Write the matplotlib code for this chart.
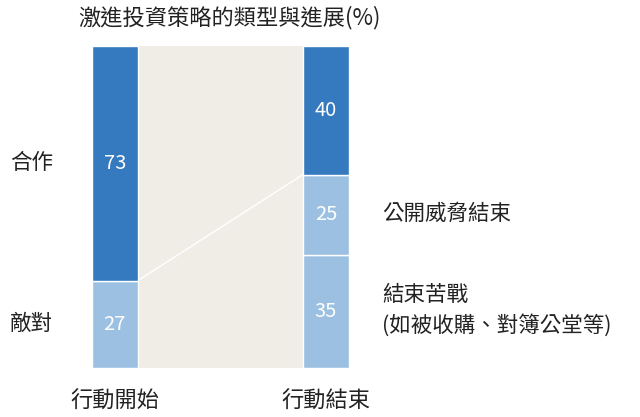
import numpy as np
import matplotlib
matplotlib.use("Agg")
import matplotlib.pyplot as plt

plt.rcParams["font.family"] = ["Noto Sans CJK TC", "DejaVu Sans"]

# data (percent)
stages = ["行動開始", "行動結束"]
start_labels = ["敵對", "合作"]
start_values = [27, 73]
end_labels = ["結束苦戰\n(如被收購、對簿公堂等)", "公開威脅結束", ""]
end_values = [35, 25, 40]
title = "激進投資策略的類型與進展(%)"

dark = "#3579be"
light = "#9bc0e2"
grey_bg = "#efede6"
text_col = "#222222"

fig = plt.figure(figsize=(6.4, 4.17), dpi=100)
ax = fig.add_axes([0.1433, 0.1182, 0.402, 0.7722])

w = 0.2176
x = np.arange(len(stages))

# grey band between the bars
ax.fill_between([w / 2, 1 - w / 2], 0, 100, color=grey_bg, lw=0, zorder=0)
# connector line from end of "敵對" to top of light stack on the right
ax.plot([w / 2, 1 - w / 2], [start_values[0], end_values[0] + end_values[1]],
        color="white", lw=1, zorder=1)

# left stacked bar
bottom = 0
for v, c in zip(start_values, [light, dark]):
    ax.bar(x[0], v, width=w, bottom=bottom, color=c, edgecolor="white",
           linewidth=1, zorder=2)
    ax.text(x[0], bottom + v / 2, str(v), ha="center", va="center",
            color="white", fontsize=14.5, fontweight="light", zorder=3)
    bottom += v

# right stacked bar
bottom = 0
for v, c, lab in zip(end_values, [light, light, dark], end_labels):
    ax.bar(x[1], v, width=w, bottom=bottom, color=c, edgecolor="white",
           linewidth=1, zorder=2)
    ax.text(x[1], bottom + v / 2, str(v), ha="center", va="center",
            color="white", fontsize=14.5, fontweight="light", zorder=3)
    if lab:
        ax.annotate(lab, xy=(x[1] + w / 2, bottom + v / 2), xytext=(24, 1),
                    textcoords="offset points", ha="left", va="center",
                    fontsize=15.5, color=text_col, linespacing=1.45,
                    fontweight="light")
    bottom += v

# left side category labels
mids = np.cumsum(start_values) - np.array(start_values) / 2
for m, lab in zip(mids, start_labels):
    ax.annotate(lab, xy=(-w / 2, m), xytext=(-59, 0),
                textcoords="offset points", ha="left", va="center",
                fontsize=15.5, color=text_col)

ax.set_xlim(-w / 2, 1 + w / 2)
ax.set_ylim(0, 100)
ax.set_xticks(x)
ax.set_xticklabels(stages, fontsize=16, color=text_col, fontweight="light")
ax.tick_params(axis="x", length=0, pad=16)
for t in ax.get_xticklabels():
    t.set_x(t.get_position()[0])
ax.set_yticks([])
for s in ax.spines.values():
    s.set_visible(False)

fig.text(78 / 640, 1 - 18 / 417, title, ha="left", va="center",
         fontsize=16, color=text_col)

fig.savefig("out.png", dpi=100, facecolor="white")
